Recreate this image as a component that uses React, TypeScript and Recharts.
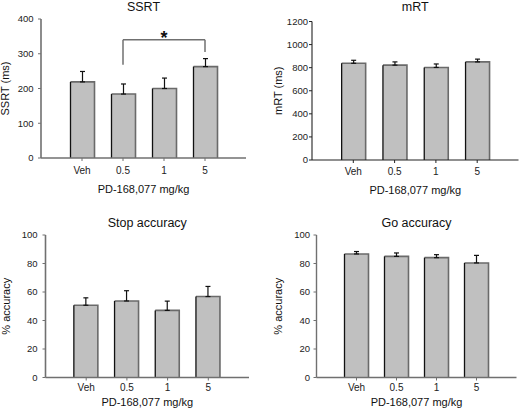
import React from "react";
import {
  BarChart,
  Bar,
  XAxis,
  YAxis,
  ErrorBar,
  ReferenceLine,
} from "recharts";

const doses = ["Veh", "0.5", "1", "5"];

const ssrtMean = [219, 184, 200, 263];
const ssrtSem = [30, 29, 30, 23];
const ssrtTicks = [0, 100, 200, 300, 400];

const mrtMean = [838, 822, 802, 850];
const mrtSem = [26, 28, 30, 24];
const mrtTicks = [0, 200, 400, 600, 800, 1000, 1200];

const stopMean = [50.7, 53.7, 47.1, 56.8];
const stopSem = [5.2, 7.2, 6.5, 7.1];

const goMean = [86.7, 85.0, 84.1, 80.4];
const goSem = [1.7, 2.4, 2.1, 5.3];

const pctTicks = [0, 20, 40, 60, 80, 100];

// SSRT: 0.5 vs 5 mg/kg bracket
const bracketFrom = "0.5";
const bracketTo = "5";
const bracketTop = 340;
const bracketLeftFoot = 268;
const bracketRightFoot = 305;

const xTitle = "PD-168,077 mg/kg";
const FONT = "'Liberation Sans', Arial, Helvetica, sans-serif";

type Row = { dose: string; mean: number; err: [number, number] };

const toRows = (mean: number[], sem: number[]): Row[] =>
  doses.map((d, i) => ({ dose: d, mean: mean[i], err: [0, sem[i]] }));

type Layout = {
  left: number;
  top: number;
  plotL: number;
  plotR: number;
  plotT: number;
  plotB: number;
  yLabelX: number;
  tickGap: number;
  yTickGap: number;
  xLabelBase: number;
  titleBase: number;
  axis: string;
  axisW: number;
};

const W = 259;
const H = 205;
const YW = 40;
const TITLE_SIZE = 12.5;

const GrayBar = (props: any) => {
  const { x, y, width, height } = props;
  if (!height) return null;
  return (
    <g>
      <rect x={x} y={y} width={width} height={height} fill="#c0c0c0" />
      <path
        d={`M${x + width},${y + height} V${y} H${x}`}
        stroke="#6a6a6a"
        strokeWidth={1.6}
        fill="none"
      />
      <path d={`M${x},${y} V${y + height}`} stroke="#111" strokeWidth={1.3} />
    </g>
  );
};

function Panel({
  title,
  yLabel,
  rows,
  ticks,
  lay,
  children,
}: {
  title: string;
  yLabel: string;
  rows: Row[];
  ticks: number[];
  lay: Layout;
  children?: React.ReactNode;
}) {
  const xh = lay.xLabelBase - lay.plotB;
  const pad = (lay.plotR - lay.plotL) / 10;
  const axisLine = { stroke: lay.axis, strokeWidth: lay.axisW };
  const xTick = { fontSize: 10, fill: "#222", fontFamily: FONT };
  const yTick = { fontSize: 9.5, fill: "#222", fontFamily: FONT };
  const labelStyle = { fontSize: 11, fill: "#111", fontFamily: FONT };
  return (
    <div style={{ position: "absolute", left: lay.left, top: lay.top, width: W, height: H }}>
      <div
        style={{
          position: "absolute",
          left: lay.plotL,
          width: lay.plotR - lay.plotL,
          top: lay.titleBase - TITLE_SIZE * 0.8465,
          textAlign: "center",
          fontSize: TITLE_SIZE,
          lineHeight: `${TITLE_SIZE}px`,
          color: "#111",
          whiteSpace: "nowrap",
        }}
      >
        {title}
      </div>
      <BarChart
        width={W}
        height={H}
        data={rows}
        margin={{
          top: lay.plotT,
          left: lay.plotL - YW,
          right: W - lay.plotR,
          bottom: H - lay.plotB - xh,
        }}
      >
        <XAxis
          dataKey="dose"
          height={xh}
          padding={{ left: pad, right: pad }}
          axisLine={axisLine}
          tickLine={{ stroke: lay.axis }}
          tickSize={3}
          tickMargin={lay.tickGap - 3}
          tick={xTick}
          interval={0}
          label={{ value: xTitle, position: "insideBottom", offset: 0, ...labelStyle }}
        />
        <XAxis
          xAxisId="top"
          dataKey="dose"
          orientation="top"
          height={0}
          padding={{ left: pad, right: pad }}
          axisLine={axisLine}
          tick={false}
          tickLine={false}
        />
        <YAxis
          width={YW}
          domain={[ticks[0], ticks[ticks.length - 1]]}
          ticks={ticks}
          interval={0}
          axisLine={axisLine}
          tickLine={{ stroke: lay.axis }}
          tickSize={3}
          tickMargin={lay.yTickGap - 3}
          tick={yTick}
          label={{
            value: yLabel,
            angle: -90,
            position: "center",
            dx: lay.yLabelX - (lay.plotL - YW / 2),
            ...labelStyle,
          }}
        />
        <YAxis
          yAxisId="right"
          orientation="right"
          width={0}
          domain={[ticks[0], ticks[ticks.length - 1]]}
          axisLine={axisLine}
          tick={false}
          tickLine={false}
        />
        <Bar dataKey="mean" barSize={24} shape={GrayBar} isAnimationActive={false}>
          <ErrorBar dataKey="err" width={2.5} stroke="#111" strokeWidth={1.2} />
        </Bar>
        {children}
      </BarChart>
    </div>
  );
}

const layouts: Layout[] = [
  { left: 0, top: 0, plotL: 41, plotR: 246, plotT: 19, plotB: 158, yLabelX: 5.5, tickGap: 8.5, yTickGap: 7.5, xLabelBase: 192.5, titleBase: 11.8, axis: "#707070", axisW: 1.6 },
  { left: 260, top: 0, plotL: 52, plotR: 258.5, plotT: 21.5, plotB: 160, yLabelX: 18, tickGap: 8, yTickGap: 4, xLabelBase: 194, titleBase: 11.8, axis: "#222", axisW: 1.1 },
  { left: 0, top: 205, plotL: 45.5, plotR: 249, plotT: 30, plotB: 172.5, yLabelX: 6.5, tickGap: 6, yTickGap: 8, xLabelBase: 200.5, titleBase: 22.5, axis: "#707070", axisW: 1.6 },
  { left: 260, top: 205, plotL: 56.5, plotR: 256.5, plotT: 30, plotB: 172.5, yLabelX: 18, tickGap: 6, yTickGap: 6.5, xLabelBase: 200.5, titleBase: 22.5, axis: "#707070", axisW: 1.4 },
];

export default function App() {
  const bracket = { stroke: "#707070", strokeWidth: 1.5 };
  return (
    <div
      style={{
        position: "absolute",
        left: 0,
        top: 0,
        width: 519,
        height: 411,
        background: "#fff",
        fontFamily: FONT,
      }}
    >
      <Panel title="SSRT" yLabel="SSRT (ms)" rows={toRows(ssrtMean, ssrtSem)} ticks={ssrtTicks} lay={layouts[0]}>
        <ReferenceLine
          segment={[
            { x: bracketFrom, y: bracketTop },
            { x: bracketTo, y: bracketTop },
          ]}
          {...bracket}
          label={{ value: "*", position: "top", offset: -4, fontSize: 18, fontWeight: "bold", fill: "#111" }}
        />
        <ReferenceLine
          segment={[
            { x: bracketFrom, y: bracketTop },
            { x: bracketFrom, y: bracketLeftFoot },
          ]}
          {...bracket}
        />
        <ReferenceLine
          segment={[
            { x: bracketTo, y: bracketTop },
            { x: bracketTo, y: bracketRightFoot },
          ]}
          {...bracket}
        />
      </Panel>
      <Panel title="mRT" yLabel="mRT (ms)" rows={toRows(mrtMean, mrtSem)} ticks={mrtTicks} lay={layouts[1]} />
      <Panel title="Stop accuracy" yLabel="% accuracy" rows={toRows(stopMean, stopSem)} ticks={pctTicks} lay={layouts[2]} />
      <Panel title="Go accuracy" yLabel="% accuracy" rows={toRows(goMean, goSem)} ticks={pctTicks} lay={layouts[3]} />
    </div>
  );
}
